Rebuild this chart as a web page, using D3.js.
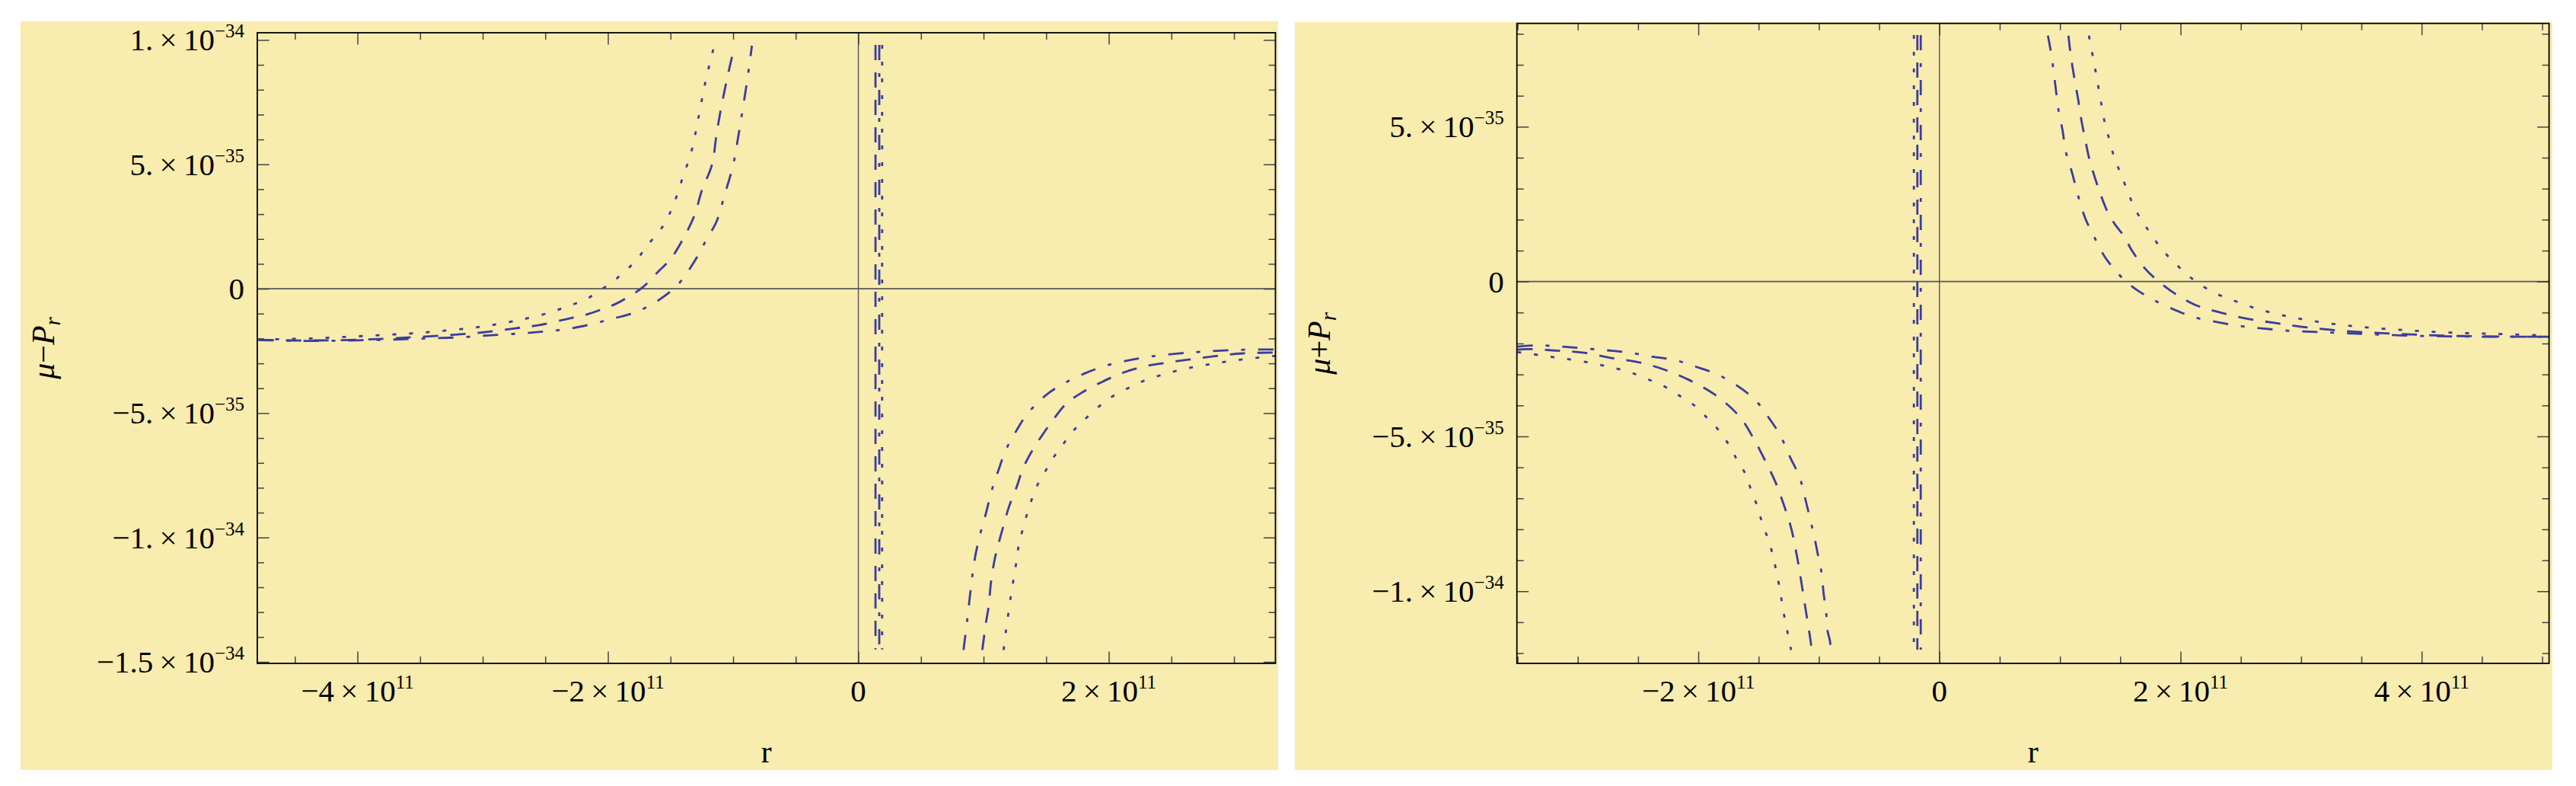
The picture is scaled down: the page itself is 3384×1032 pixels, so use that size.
<!DOCTYPE html>
<html>
<head>
<meta charset="utf-8">
<script src="https://cdnjs.cloudflare.com/ajax/libs/d3/7.8.5/d3.min.js"></script>
<style>
  body { margin: 0; background: #ffffff; }
  svg text { font-family: "Liberation Serif", "Times New Roman", serif; fill: #000; }
</style>
</head>
<body>
<svg id="chart" width="3384" height="1032"></svg>
<script>
// r is in units of 1e11, the plotted quantity in units of 1e-35

// ---- left panel : mu - P_r ----
var minusDotted1 = [[-4.79,-2.04],[-4.38,-2.00],[-4.11,-1.94],[-3.83,-1.87],[-3.55,-1.79],[-3.27,-1.67],[-2.99,-1.51],[-2.74,-1.29],[-2.62,-1.16],[-2.46,-0.95],[-2.32,-0.70],[-2.18,-0.44],[-2.07,-0.08],[-1.96,0.28],[-1.87,0.69],[-1.78,1.10],[-1.69,1.71],[-1.56,2.52],[-1.48,3.33],[-1.41,4.36],[-1.33,5.58],[-1.28,6.80],[-1.22,8.34],[-1.15,9.79]];
var minusDashed1 = [[-4.79,-2.07],[-4.38,-2.08],[-4.07,-2.06],[-3.79,-2.01],[-3.52,-1.94],[-3.24,-1.85],[-2.99,-1.75],[-2.74,-1.59],[-2.55,-1.46],[-2.34,-1.23],[-2.18,-1.05],[-2.06,-0.85],[-1.93,-0.59],[-1.84,-0.34],[-1.72,0.07],[-1.59,0.73],[-1.50,1.19],[-1.41,1.91],[-1.31,2.93],[-1.25,3.95],[-1.17,4.97],[-1.13,6.30],[-1.09,7.42],[-1.04,8.64],[-0.99,9.72]];
var minusDotDashed1 = [[-4.79,-2.05],[-4.38,-2.10],[-4.07,-2.08],[-3.76,-2.05],[-3.45,-2.00],[-3.17,-1.95],[-2.93,-1.87],[-2.68,-1.79],[-2.49,-1.71],[-2.31,-1.61],[-2.12,-1.41],[-1.96,-1.20],[-1.81,-1.00],[-1.69,-0.74],[-1.56,-0.34],[-1.44,0.17],[-1.31,1.09],[-1.22,1.91],[-1.13,2.73],[-1.07,3.74],[-1.00,4.97],[-0.96,6.09],[-0.92,7.32],[-0.88,8.64],[-0.85,9.77]];
var minusDottedJump = [[0.19,9.8],[0.19,-14.5]];
var minusDashedJump = [[0.137,9.8],[0.137,-14.5]];
var minusDotDashedJump = [[0.167,9.8],[0.167,-14.5]];
var minusDotted2 = [[1.16,-14.52],[1.18,-13.71],[1.20,-12.99],[1.22,-12.28],[1.24,-11.67],[1.26,-11.05],[1.28,-10.34],[1.31,-9.73],[1.35,-9.01],[1.39,-8.40],[1.44,-7.79],[1.50,-7.28],[1.56,-6.77],[1.62,-6.36],[1.71,-5.75],[1.79,-5.34],[1.90,-4.83],[2.00,-4.42],[2.13,-4.06],[2.25,-3.76],[2.40,-3.50],[2.54,-3.30],[2.69,-3.14],[2.86,-2.99],[3.07,-2.84],[3.33,-2.70]];
var minusDashed2 = [[0.99,-14.52],[1.02,-13.40],[1.04,-12.79],[1.06,-11.77],[1.09,-10.85],[1.12,-10.24],[1.16,-9.52],[1.20,-8.81],[1.27,-7.89],[1.31,-7.28],[1.37,-6.67],[1.46,-5.95],[1.56,-5.24],[1.66,-4.62],[1.79,-4.16],[1.94,-3.76],[2.10,-3.40],[2.27,-3.14],[2.44,-2.99],[2.65,-2.84],[2.86,-2.70],[3.07,-2.60],[3.33,-2.56]];
var minusDotDashed2 = [[0.84,-14.52],[0.87,-13.30],[0.90,-11.97],[0.93,-10.85],[0.97,-9.93],[1.02,-9.01],[1.06,-8.20],[1.12,-7.28],[1.18,-6.46],[1.27,-5.64],[1.35,-5.03],[1.50,-4.27],[1.64,-3.81],[1.81,-3.40],[1.98,-3.09],[2.15,-2.89],[2.33,-2.73],[2.54,-2.61],[2.75,-2.53],[3.03,-2.46],[3.33,-2.44]];

// ---- right panel : mu + P_r ----
var plusDotted1 = [[-3.50,-2.28],[-3.40,-2.33],[-3.26,-2.41],[-3.13,-2.48],[-2.97,-2.57],[-2.83,-2.68],[-2.70,-2.79],[-2.56,-2.94],[-2.43,-3.14],[-2.29,-3.37],[-2.16,-3.68],[-2.04,-3.98],[-1.93,-4.39],[-1.84,-4.76],[-1.75,-5.25],[-1.68,-5.75],[-1.60,-6.28],[-1.56,-6.77],[-1.51,-7.26],[-1.47,-7.80],[-1.42,-8.33],[-1.38,-8.86],[-1.35,-9.43],[-1.32,-10.01],[-1.30,-10.54],[-1.27,-11.12],[-1.24,-11.73],[-1.23,-11.9]];
var plusDashed1 = [[-3.50,-2.20],[-3.42,-2.18],[-3.18,-2.23],[-2.95,-2.30],[-2.72,-2.47],[-2.49,-2.61],[-2.27,-2.86],[-2.07,-3.19],[-1.86,-3.66],[-1.66,-4.35],[-1.55,-5.01],[-1.45,-5.75],[-1.36,-6.48],[-1.29,-7.22],[-1.23,-7.96],[-1.19,-8.70],[-1.16,-9.35],[-1.13,-10.09],[-1.10,-10.83],[-1.07,-11.57],[-1.06,-11.89]];
var plusDotDashed1 = [[-3.50,-2.10],[-3.33,-2.06],[-3.14,-2.10],[-2.97,-2.15],[-2.76,-2.22],[-2.58,-2.29],[-2.38,-2.43],[-2.20,-2.53],[-2.02,-2.75],[-1.84,-3.00],[-1.66,-3.41],[-1.52,-3.86],[-1.41,-4.43],[-1.32,-4.97],[-1.24,-5.66],[-1.16,-6.32],[-1.11,-7.06],[-1.07,-7.71],[-1.04,-8.20],[-1.01,-8.78],[-0.98,-9.35],[-0.96,-10.09],[-0.94,-10.66],[-0.93,-11.24],[-0.91,-11.57],[-0.90,-11.89]];
var plusDottedJump = [[-0.212,7.96],[-0.212,-11.89]];
var plusDashedJump = [[-0.183,7.96],[-0.183,-11.89]];
var plusDotDashedJump = [[-0.155,7.96],[-0.155,-11.89]];
var plusDotted2 = [[1.24,7.94],[1.28,7.12],[1.31,6.47],[1.34,5.81],[1.37,5.16],[1.41,4.58],[1.45,4.01],[1.50,3.52],[1.55,3.03],[1.61,2.45],[1.68,1.96],[1.76,1.51],[1.84,1.06],[1.95,0.61],[2.05,0.24],[2.16,-0.09],[2.29,-0.38],[2.42,-0.58],[2.55,-0.77],[2.70,-0.95],[2.96,-1.18],[3.25,-1.36],[3.54,-1.48],[3.83,-1.56],[4.12,-1.63],[4.41,-1.67],[4.70,-1.70],[5.06,-1.75]];
var plusDashed2 = [[1.07,7.94],[1.09,7.29],[1.12,6.55],[1.15,5.90],[1.18,5.16],[1.21,4.58],[1.24,4.01],[1.29,3.35],[1.34,2.78],[1.39,2.29],[1.45,1.88],[1.53,1.47],[1.60,0.98],[1.71,0.40],[1.81,0.03],[1.95,-0.38],[2.12,-0.75],[2.32,-0.99],[2.55,-1.20],[2.79,-1.34],[3.05,-1.48],[3.34,-1.59],[3.63,-1.66],[3.92,-1.71],[4.21,-1.75],[4.50,-1.77],[4.79,-1.78],[5.06,-1.78]];
var plusDotDashed2 = [[0.90,7.94],[0.93,7.29],[0.96,6.39],[0.99,5.48],[1.02,4.91],[1.05,4.17],[1.10,3.52],[1.15,2.78],[1.21,2.04],[1.28,1.47],[1.37,0.81],[1.45,0.40],[1.54,0.03],[1.63,-0.25],[1.77,-0.58],[1.95,-0.91],[2.12,-1.16],[2.32,-1.32],[2.50,-1.44],[2.67,-1.51],[2.90,-1.59],[3.13,-1.63],[3.37,-1.67],[3.63,-1.71],[3.92,-1.75],[4.21,-1.77],[4.50,-1.78],[4.79,-1.78],[5.06,-1.78]];

// tick values and labels  [mantissa, exponent]
var xTicksLeft = [-4, -2, 0, 2];
var xLabelsLeft = [["\u22124", "11"], ["\u22122", "11"], ["0", null], ["2", "11"]];
var yTicksLeft = [10, 5, 0, -5, -10, -15];
var yLabelsLeft = [["1.", "\u221234"], ["5.", "\u221235"], ["0", null], ["\u22125.", "\u221235"], ["\u22121.", "\u221234"], ["\u22121.5", "\u221234"]];
var xTicksRight = [-2, 0, 2, 4];
var xLabelsRight = [["\u22122", "11"], ["0", null], ["2", "11"], ["4", "11"]];
var yTicksRight = [5, 0, -5, -10];
var yLabelsRight = [["5.", "\u221235"], ["0", null], ["\u22125.", "\u221235"], ["\u22121.", "\u221234"]];

var lineColor = "#3c3c9e";
var styles = {
  dotted: "5,17",
  dashed: "20,16",
  dotdashed: "20,17,5,17"
};

var panels = [
  {
    bg: {x: 27, y: 28, w: 1652, h: 983},
    frame: {x0: 338, x1: 1675.5, y0: 43, y1: 871},
    xDomain: [-4.8, 3.331], yDomain: [-15.06, 10.29],
    xTicks: xTicksLeft, xLabels: xLabelsLeft, yTicks: yTicksLeft, yLabels: yLabelsLeft,
    xMinor: d3.range(-4.5, 3.01, 0.5), yMinor: d3.range(-15, 10.01, 1),
    sign: "\u2212", labelX: 71,
    series: [
      {d: minusDotted1, s: "dotted"}, {d: minusDashed1, s: "dashed"}, {d: minusDotDashed1, s: "dotdashed"},
      {d: minusDottedJump, s: "dotted"}, {d: minusDashedJump, s: "dashed"}, {d: minusDotDashedJump, s: "dotdashed"},
      {d: minusDotted2, s: "dotted"}, {d: minusDashed2, s: "dashed"}, {d: minusDotDashed2, s: "dotdashed"}
    ]
  },
  {
    bg: {x: 1701, y: 29, w: 1652, h: 982},
    frame: {x0: 1992.7, x1: 3348.6, y0: 30.7, y1: 871},
    xDomain: [-3.505, 5.057], yDomain: [-12.33, 8.337],
    xTicks: xTicksRight, xLabels: xLabelsRight, yTicks: yTicksRight, yLabels: yLabelsRight,
    xMinor: d3.range(-3.5, 5.01, 0.5), yMinor: d3.range(-12, 8.01, 1),
    sign: "+", labelX: 1747,
    series: [
      {d: plusDotted1, s: "dotted"}, {d: plusDashed1, s: "dashed"}, {d: plusDotDashed1, s: "dotdashed"},
      {d: plusDottedJump, s: "dotted"}, {d: plusDashedJump, s: "dashed"}, {d: plusDotDashedJump, s: "dotdashed"},
      {d: plusDotted2, s: "dotted"}, {d: plusDashed2, s: "dashed"}, {d: plusDotDashed2, s: "dotdashed"}
    ]
  }
];

var svg = d3.select("#chart");

panels.forEach(function(p, pi) {
  var f = p.frame;
  var x = d3.scaleLinear().domain(p.xDomain).range([f.x0, f.x1]);
  var y = d3.scaleLinear().domain(p.yDomain).range([f.y1, f.y0]);

  var g = svg.append("g").attr("class", "panel panel-" + pi);

  // background
  g.append("rect")
    .attr("x", p.bg.x).attr("y", p.bg.y)
    .attr("width", p.bg.w).attr("height", p.bg.h)
    .attr("fill", "#f8ecae");

  // axes through the origin
  g.append("line")
    .attr("x1", f.x0).attr("x2", f.x1)
    .attr("y1", y(0)).attr("y2", y(0))
    .attr("stroke", "#555").attr("stroke-width", 1.8);
  g.append("line")
    .attr("x1", x(0)).attr("x2", x(0))
    .attr("y1", f.y0).attr("y2", f.y1)
    .attr("stroke", "#555").attr("stroke-width", 1.4);

  // curves
  var line = d3.line()
    .x(function(d) { return x(d[0]); })
    .y(function(d) { return y(d[1]); })
    .curve(d3.curveCatmullRom.alpha(0.5));

  g.selectAll(".curve")
    .data(p.series)
    .enter().append("path")
    .attr("class", "curve")
    .attr("d", function(s) { return line(s.d); })
    .attr("fill", "none")
    .attr("stroke", lineColor)
    .attr("stroke-width", 2.8)
    .attr("stroke-dasharray", function(s) { return styles[s.s]; });

  // frame ticks, pointing inside
  function addTicks(axis, vals, size, tx, ty) {
    var a = g.append("g")
      .attr("transform", "translate(" + tx + "," + ty + ")")
      .call(axis.tickValues(vals).tickSize(-size).tickSizeOuter(0).tickFormat(""));
    a.select(".domain").remove();
    a.selectAll("line").attr("stroke", "#444").attr("stroke-width", 1.5);
  }
  var xMinor = p.xMinor.filter(function(v) { return p.xTicks.indexOf(v) < 0; });
  var yMinor = p.yMinor.filter(function(v) { return p.yTicks.indexOf(v) < 0; });
  addTicks(d3.axisBottom(x), p.xTicks, 15.6, 0, f.y1);
  addTicks(d3.axisBottom(x), xMinor, 9, 0, f.y1);
  addTicks(d3.axisTop(x), p.xTicks, 15.6, 0, f.y0);
  addTicks(d3.axisTop(x), xMinor, 9, 0, f.y0);
  addTicks(d3.axisLeft(y), p.yTicks, 15.6, f.x0, 0);
  addTicks(d3.axisLeft(y), yMinor, 9, f.x0, 0);
  addTicks(d3.axisRight(y), p.yTicks, 15.6, f.x1, 0);
  addTicks(d3.axisRight(y), yMinor, 9, f.x1, 0);

  // frame
  g.append("rect")
    .attr("x", f.x0).attr("y", f.y0)
    .attr("width", f.x1 - f.x0).attr("height", f.y1 - f.y0)
    .attr("fill", "none").attr("stroke", "#000").attr("stroke-width", 1.8);

  // tick labels
  function writeLabel(t, lab) {
    t.append("tspan").text(lab[1] ? lab[0] + "\u2009\u00D7\u200910" : lab[0]);
    if (lab[1]) {
      t.append("tspan").attr("font-size", 25).attr("dy", -17).text(lab[1]);
    }
  }
  p.xTicks.forEach(function(v, i) {
    var t = g.append("text")
      .attr("x", x(v)).attr("y", f.y1 + 50)
      .attr("text-anchor", "middle")
      .attr("font-size", 41);
    writeLabel(t, p.xLabels[i]);
  });
  p.yTicks.forEach(function(v, i) {
    var t = g.append("text")
      .attr("x", f.x0 - 17).attr("y", y(v) + 14)
      .attr("text-anchor", "end")
      .attr("font-size", 41);
    writeLabel(t, p.yLabels[i]);
  });

  // axis titles
  g.append("text")
    .attr("x", (f.x0 + f.x1) / 2).attr("y", 1001)
    .attr("text-anchor", "middle")
    .attr("font-size", 42)
    .text("r");

  var yl = g.append("text")
    .attr("transform", "translate(" + p.labelX + "," + ((f.y0 + f.y1) / 2) + ") rotate(-90)")
    .attr("text-anchor", "middle")
    .attr("font-size", 42);
  yl.append("tspan").attr("font-style", "italic").text("\u03BC");
  yl.append("tspan").text(p.sign);
  yl.append("tspan").attr("font-style", "italic").text("P");
  yl.append("tspan").attr("font-style", "italic").attr("font-size", 29).attr("dy", 8).text("r");
});
</script>
</body>
</html>
